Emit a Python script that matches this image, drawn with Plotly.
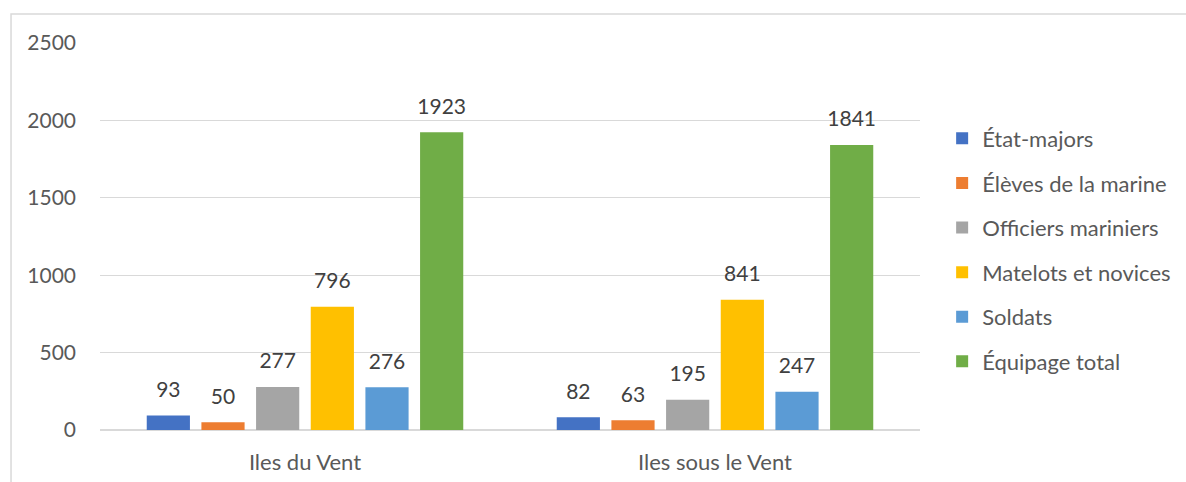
import plotly.graph_objects as go

categories = ["Iles du Vent", "Iles sous le Vent"]
series_names = ["État-majors", "Élèves de la marine", "Officiers mariniers",
                "Matelots et novices", "Soldats", "Équipage total"]
etat_majors = [93, 82]
eleves = [50, 63]
officiers = [277, 195]
matelots = [796, 841]
soldats = [276, 247]
equipage = [1923, 1841]
series_values = [etat_majors, eleves, officiers, matelots, soldats, equipage]
colors = ["#4472C4", "#ED7D31", "#A5A5A5", "#FFC000", "#5B9BD5", "#70AD47"]

FONT = "Lato, Open Sans, sans-serif"

fig = go.Figure()
for i, (name, vals, col) in enumerate(zip(series_names, series_values, colors)):
    fig.add_trace(go.Bar(
        name=name, x=categories, y=vals, marker_color=col,
        marker_line_width=0, offsetgroup=str(i), alignmentgroup="a",
        legendgroup=f"g{i}", hoverinfo="skip",
    ))
for i, (name, vals) in enumerate(zip(series_names, series_values)):
    fig.add_trace(go.Scatter(
        x=categories, y=vals, mode="markers+text",
        text=[str(v) for v in vals], textposition="top center",
        textfont=dict(size=21, color="#404040", family=FONT),
        marker=dict(size=20, opacity=0, color="white"),
        offsetgroup=str(i), alignmentgroup="a",
        showlegend=False, hoverinfo="skip", cliponaxis=False,
    ))

fig.update_layout(
    width=1186, height=482,
    margin=dict(l=100, r=266, t=43, b=52, autoexpand=False),
    paper_bgcolor="white", plot_bgcolor="white",
    barmode="group", bargap=0.2, bargroupgap=0.21,
    scattermode="group", scattergap=0.2,
    font=dict(family=FONT, color="#595959", size=21),
    showlegend=True,
    legend=dict(x=1.027, y=0.465, xanchor="left", yanchor="middle",
                font=dict(size=22, color="#595959", family=FONT),
                tracegroupgap=13, itemwidth=30),
    yaxis=dict(range=[0, 2500], dtick=500, showgrid=True, gridcolor="#D9D9D9",
               gridwidth=1, zeroline=True, zerolinecolor="#D9D9D9",
               tickfont=dict(size=21, color="#595959"), ticks="",
               ticklabelstandoff=23, showline=False, automargin=False),
    xaxis=dict(tickfont=dict(size=22, color="#595959"), showline=False, ticks="",
               ticklabelstandoff=17, automargin=False),
    shapes=[dict(type="rect", xref="paper", yref="paper",
                 x0=-0.1085, x1=1.4, y0=-0.3, y1=1.075,
                 line=dict(color="#D9D9D9", width=1.5), layer="below")],
)

fig.write_html(
    "out.html",
    config={"displayModeBar": False},
    post_script="document.body.style.margin='0';document.body.style.overflow='hidden';",
)
